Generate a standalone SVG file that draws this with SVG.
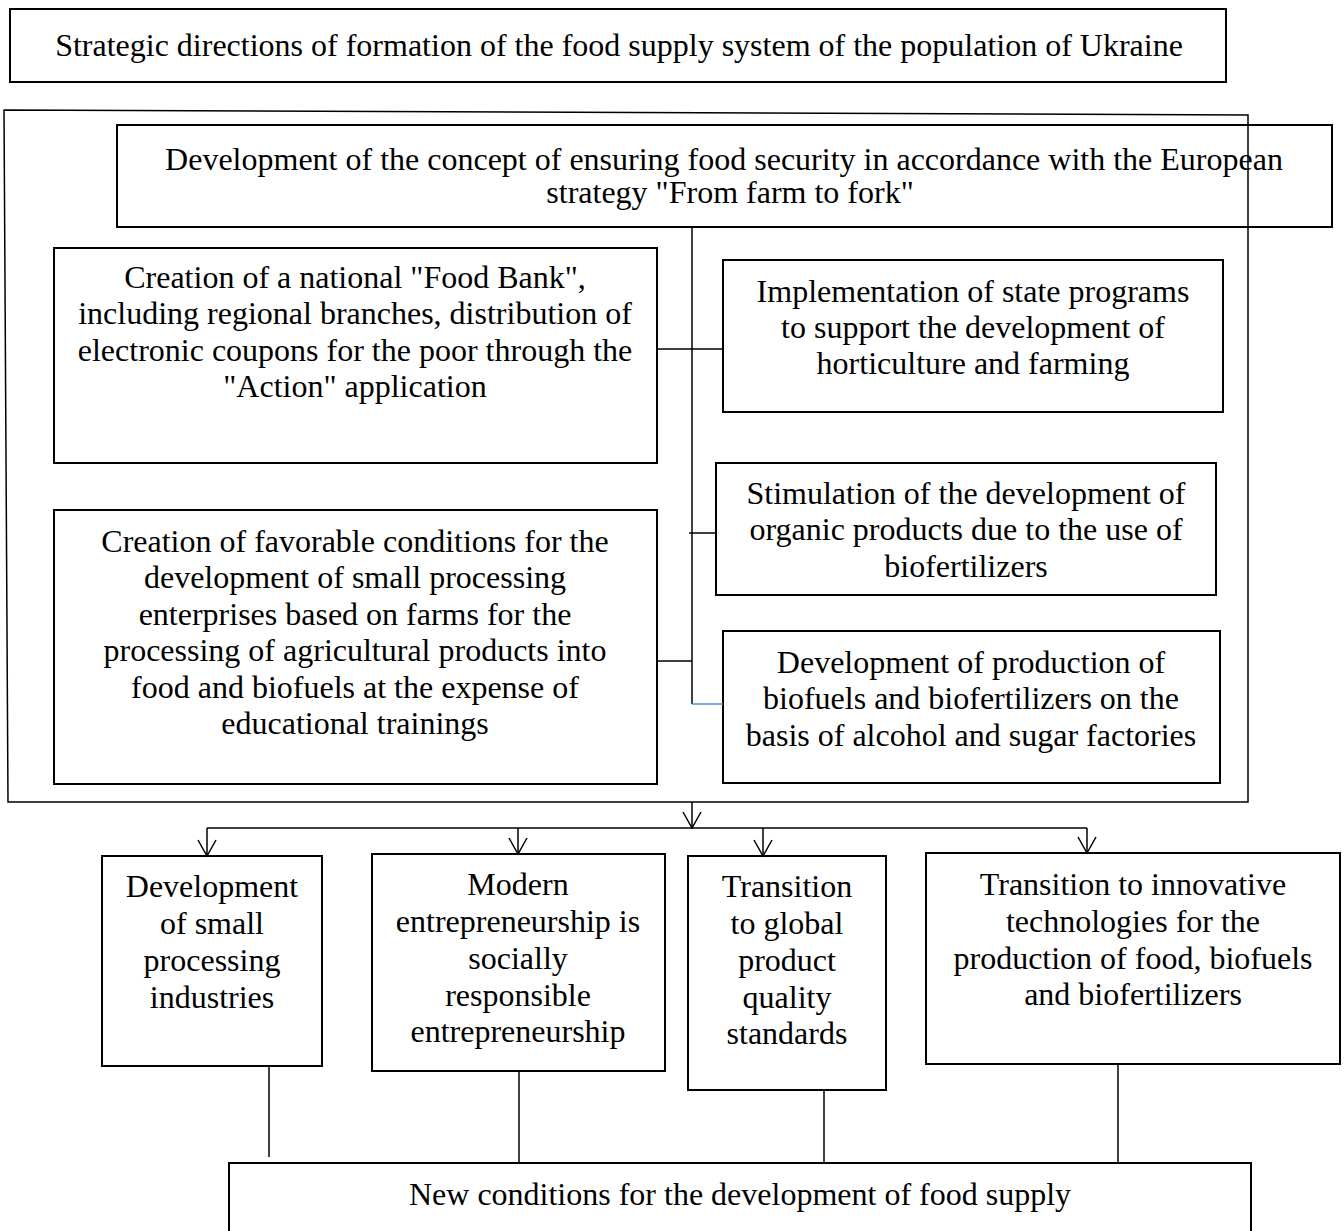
<svg xmlns="http://www.w3.org/2000/svg" width="1344" height="1231" viewBox="0 0 1344 1231">
<style>
.box{fill:none;stroke:#000;stroke-width:2}
.ln{fill:none;stroke:#000;stroke-width:1.5}
</style>
<defs>
<marker id="v" viewBox="0 0 20 20" refX="18" refY="10" markerWidth="20" markerHeight="20" markerUnits="userSpaceOnUse" orient="auto">
<path d="M2,1 L18,10 L2,19" fill="none" stroke="#000" stroke-width="1.5"/>
</marker>
</defs>
<rect width="1344" height="1231" fill="#fff"/>
<g font-family="Liberation Serif" font-size="32" fill="#000" text-anchor="middle">
<g id="title">
<rect class="box" x="10" y="9" width="1216" height="73"/>
<text x="619" y="56">Strategic directions of formation of the food supply system of the population of Ukraine</text>
</g>
<g id="frame">
<polygon class="ln" points="4,110 1248,115 1248,802 8,802"/>
</g>
<g id="concept">
<rect class="box" x="117" y="125" width="1215" height="102"/>
<text x="724" y="170">Development of the concept of ensuring food security in accordance with the European</text>
<text x="730" y="203">strategy "From farm to fork"</text>
</g>
<g id="foodbank">
<rect class="box" x="54" y="248" width="603" height="215"/>
<text x="355" y="288">Creation of a national "Food Bank",</text>
<text x="355" y="324">including regional branches, distribution of</text>
<text x="355" y="361">electronic coupons for the poor through the</text>
<text x="355" y="397">"Action" application</text>
</g>
<g id="stateprog">
<rect class="box" x="723" y="260" width="500" height="152"/>
<text x="973" y="302">Implementation of state programs</text>
<text x="973" y="338">to support the development of</text>
<text x="973" y="374">horticulture and farming</text>
</g>
<g id="organic">
<rect class="box" x="716" y="463" width="500" height="132"/>
<text x="966" y="504">Stimulation of the development of</text>
<text x="966" y="540">organic products due to the use of</text>
<text x="966" y="577">biofertilizers</text>
</g>
<g id="processing">
<rect class="box" x="54" y="510" width="603" height="274"/>
<text x="355" y="552">Creation of favorable conditions for the</text>
<text x="355" y="588">development of small processing</text>
<text x="355" y="625">enterprises based on farms for the</text>
<text x="355" y="661">processing of agricultural products into</text>
<text x="355" y="698">food and biofuels at the expense of</text>
<text x="355" y="734">educational trainings</text>
</g>
<g id="biofuels">
<rect class="box" x="723" y="631" width="497" height="152"/>
<text x="971" y="673">Development of production of</text>
<text x="971" y="709">biofuels and biofertilizers on the</text>
<text x="971" y="746">basis of alcohol and sugar factories</text>
</g>
<g id="b1">
<rect class="box" x="102" y="856" width="220" height="210"/>
<text x="212" y="897">Development</text>
<text x="212" y="934">of small</text>
<text x="212" y="971">processing</text>
<text x="212" y="1008">industries</text>
</g>
<g id="b2">
<rect class="box" x="372" y="854" width="293" height="217"/>
<text x="518" y="895">Modern</text>
<text x="518" y="932">entrepreneurship is</text>
<text x="518" y="969">socially</text>
<text x="518" y="1006">responsible</text>
<text x="518" y="1042">entrepreneurship</text>
</g>
<g id="b3">
<rect class="box" x="688" y="856" width="198" height="234"/>
<text x="787" y="897">Transition</text>
<text x="787" y="934">to global</text>
<text x="787" y="971">product</text>
<text x="787" y="1008">quality</text>
<text x="787" y="1044">standards</text>
</g>
<g id="b4">
<rect class="box" x="926" y="853" width="414" height="211"/>
<text x="1133" y="895">Transition to innovative</text>
<text x="1133" y="932">technologies for the</text>
<text x="1133" y="969">production of food, biofuels</text>
<text x="1133" y="1005">and biofertilizers</text>
</g>
<g id="newcond">
<rect class="box" x="229" y="1163" width="1022" height="80"/>
<text x="740" y="1205">New conditions for the development of food supply</text>
</g>
</g>
<g id="connectors">
<line class="ln" x1="692" y1="227" x2="692" y2="704"/>
<line class="ln" x1="657" y1="349" x2="723" y2="349"/>
<line class="ln" x1="689" y1="533" x2="716" y2="533"/>
<line class="ln" x1="657" y1="661" x2="692" y2="661"/>
<line x1="692" y1="704" x2="723" y2="704" stroke="#4a90d9" stroke-width="1.5"/>
<line class="ln" x1="692" y1="802" x2="692" y2="828" marker-end="url(#v)"/>
<line class="ln" x1="207" y1="828" x2="1087" y2="828"/>
<line class="ln" x1="207" y1="828" x2="207" y2="856" marker-end="url(#v)"/>
<line class="ln" x1="518" y1="828" x2="518" y2="854" marker-end="url(#v)"/>
<line class="ln" x1="763" y1="828" x2="763" y2="856" marker-end="url(#v)"/>
<line class="ln" x1="1087" y1="828" x2="1087" y2="853" marker-end="url(#v)"/>
<line class="ln" x1="269" y1="1066" x2="269" y2="1157"/>
<line class="ln" x1="519" y1="1071" x2="519" y2="1163"/>
<line class="ln" x1="824" y1="1090" x2="824" y2="1163"/>
<line class="ln" x1="1118" y1="1064" x2="1118" y2="1163"/>
</g>
</svg>
